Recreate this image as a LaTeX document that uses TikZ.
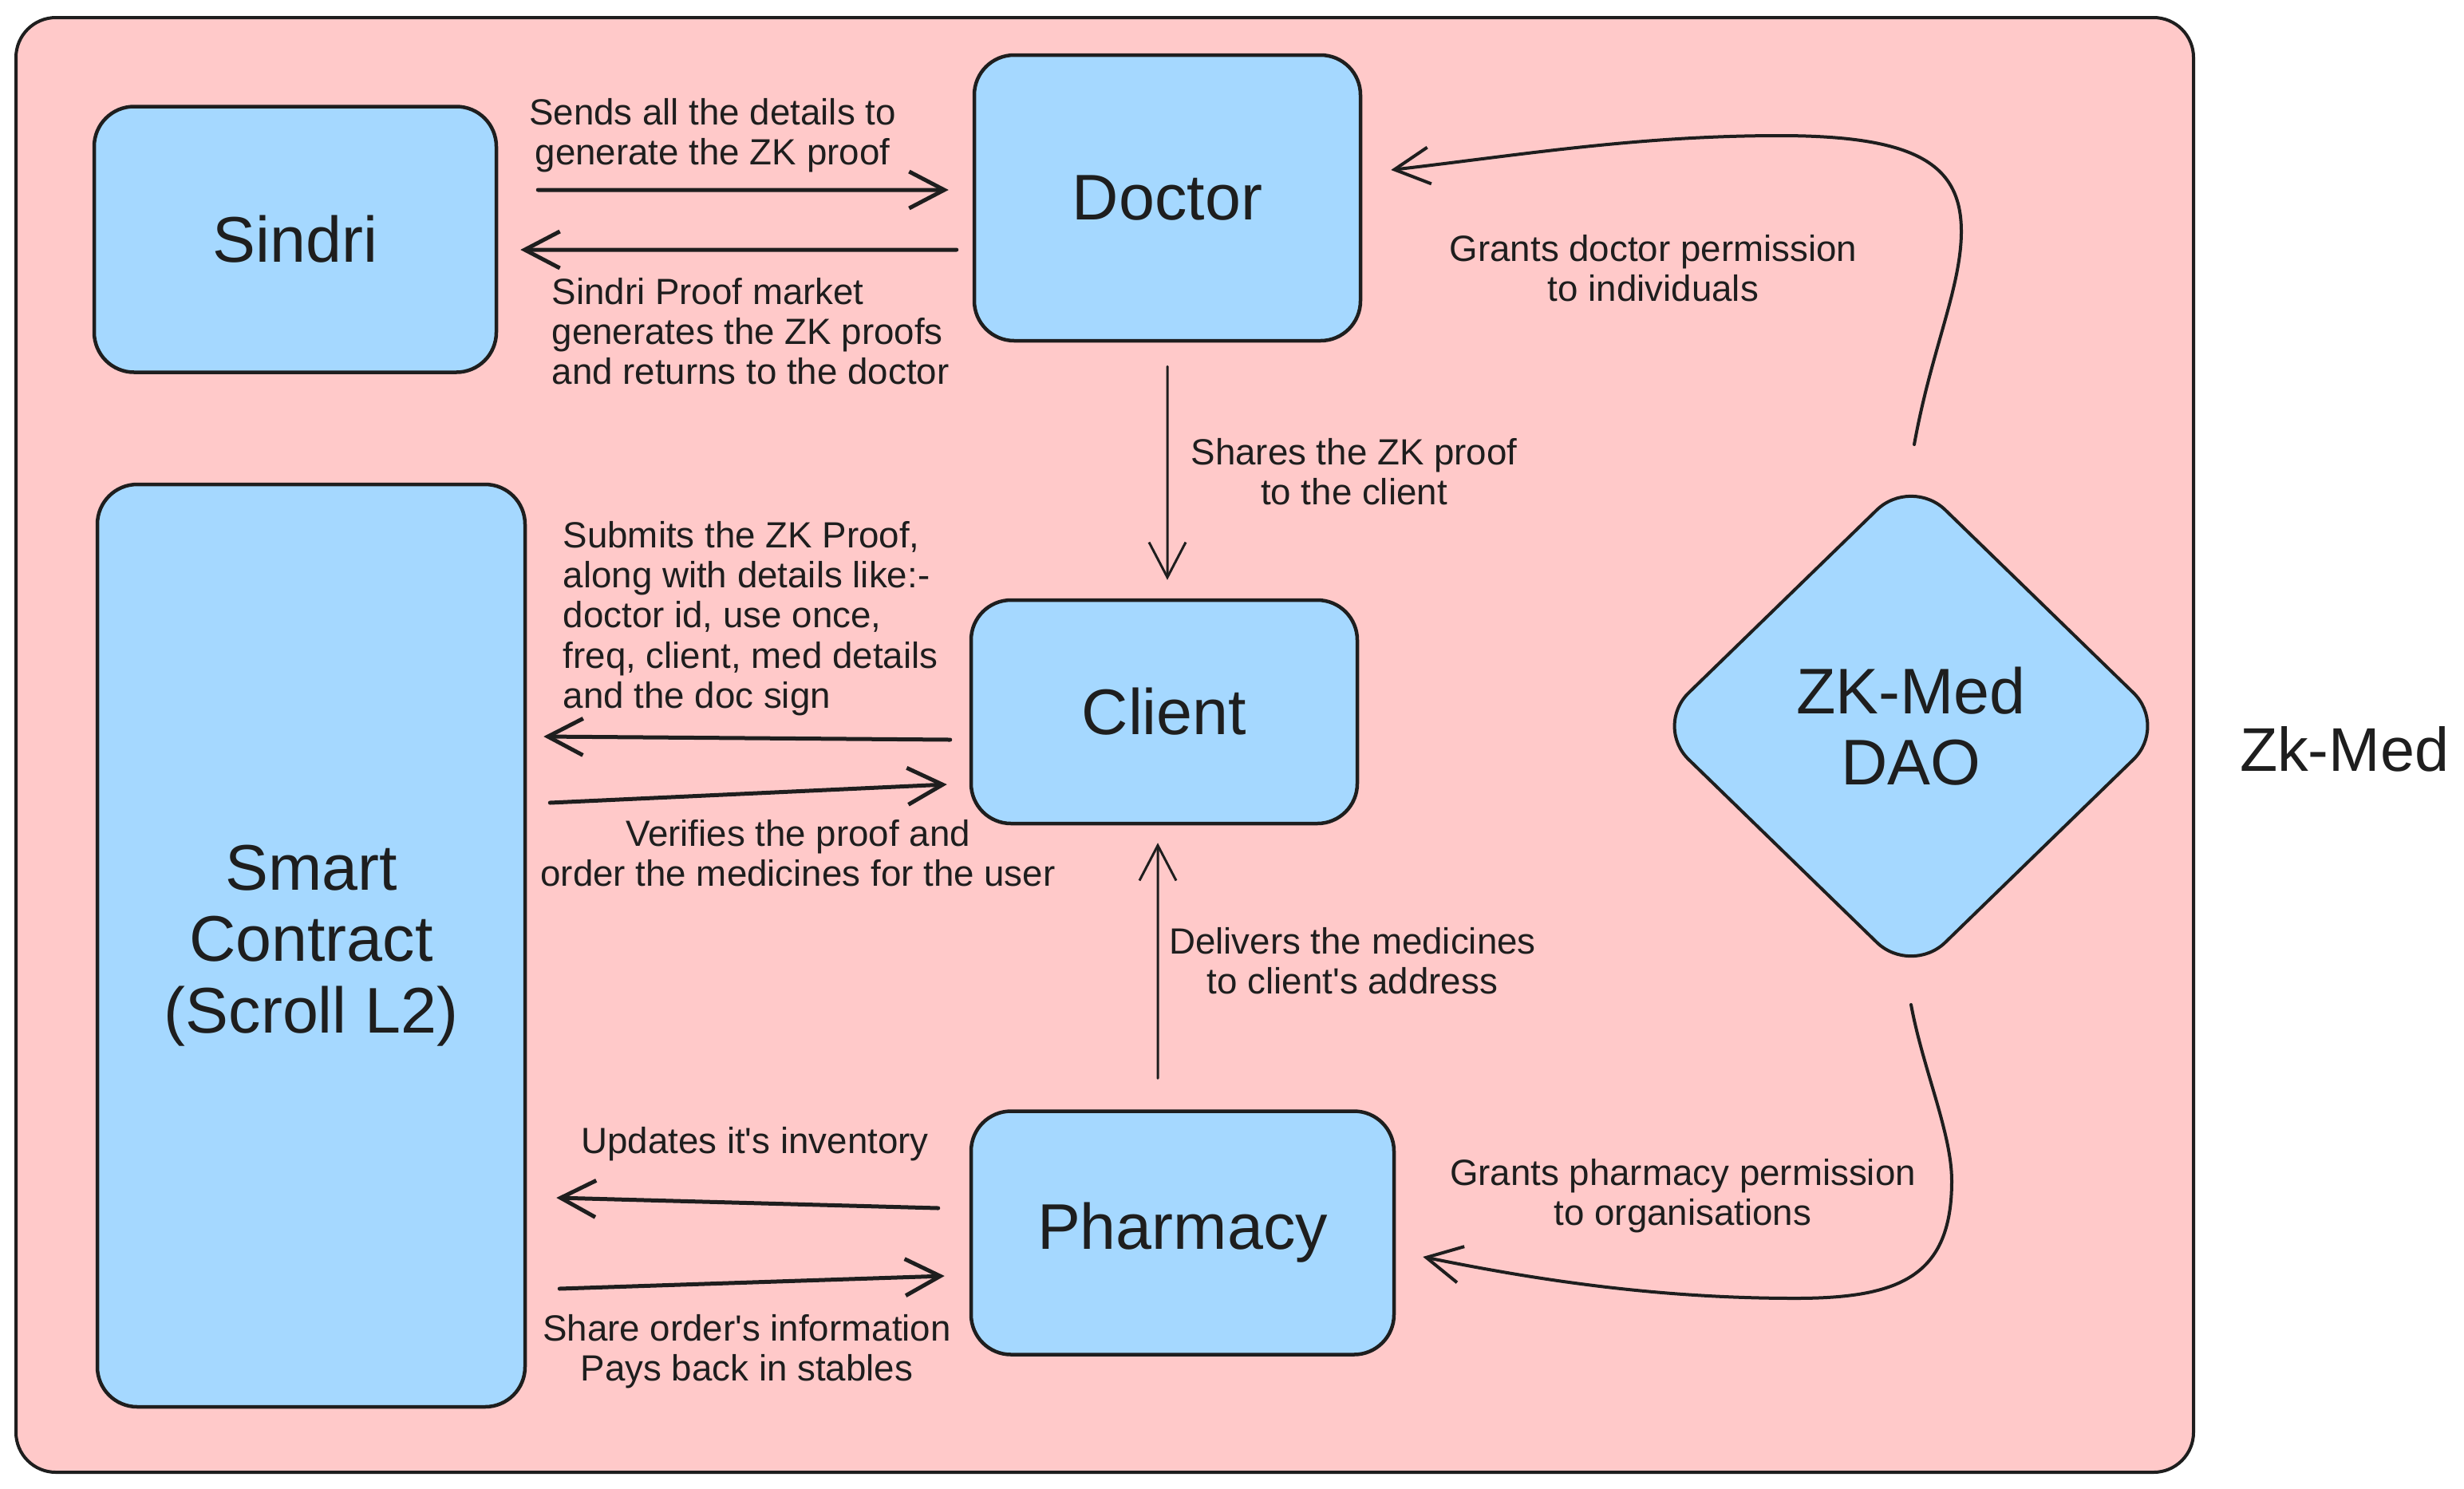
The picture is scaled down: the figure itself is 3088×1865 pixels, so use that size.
\documentclass[tikz,border=0pt]{standalone}
\usepackage{fontspec}
\setmainfont{Liberation Sans}[Ligatures=TeXOff]
\usetikzlibrary{arrows.meta,shapes.geometric}
\definecolor{pinkbg}{HTML}{FFC9C9}
\definecolor{bluebox}{HTML}{A5D8FF}
\definecolor{ink}{HTML}{1E1E1E}
\begin{document}
\begin{tikzpicture}[x=0.1mm,y=-0.1mm,
  box/.style={draw=ink, fill=bluebox, line width=0.45mm, rounded corners=5mm,
    font=\fontsize{23}{25.5}\selectfont, text=ink, align=center, inner sep=0pt},
  lbl/.style={font=\fontsize{13}{14.3}\selectfont, text=ink, align=center, inner sep=0pt},
  bigarrow/.style={draw=ink, line width=0.5mm, line cap=round, line join=round,
    -{Straight Barb[length=4.4mm,width=4.6mm]}},
  thinarrow/.style={draw=ink, line width=0.3mm, line cap=round, line join=round,
    -{Straight Barb[length=4.4mm,width=4.6mm]}},
  curvearrow/.style={draw=ink, line width=0.4mm, line cap=round, line join=round,
    -{Straight Barb[length=4.4mm,width=4.6mm]}}]
\useasboundingbox[fill=white] (0,0) rectangle (3088,1865);
% outer frame
\draw[fill=pinkbg, draw=ink, line width=0.4mm, rounded corners=5mm] (20,22) rectangle (2749,1845);

% nodes
\node[box, minimum width=50.4mm, minimum height=33.3mm] (sindri) at (370,300) {Sindri};
\node[box, minimum width=48.4mm, minimum height=35.8mm] (doctor) at (1463,248) {Doctor};
\node[box, minimum width=48.4mm, minimum height=28mm] (client) at (1459,892) {Client};
\node[box, minimum width=53mm, minimum height=30.5mm] (pharmacy) at (1482,1545) {Pharmacy};
\node[box, minimum width=53.6mm, minimum height=115.6mm] (smart) at (390,1185) {Smart\\Contract\\(Scroll L2)};
\node[box, diamond, minimum width=64.5mm, minimum height=62.7mm, rounded corners=6mm, line width=0.4mm] (dao) at (2395,910) {ZK-Med\\DAO};
\node[font=\fontsize{22}{24}\selectfont, text=ink, inner sep=0pt] (title) at (2938,939) {Zk-Med};

% labels
\node[lbl] (l1) at (893,170) {Sends all the details to\\generate the ZK proof};
\node[lbl, align=left, anchor=west] (l2) at (691,415) {Sindri Proof market\\generates the ZK proofs\\and returns to the doctor};
\node[lbl] (l3) at (1697,591) {Shares the ZK proof\\to the client};
\node[lbl, align=left, anchor=west] (l4) at (705,775) {Submits the ZK Proof,\\along with details like:-\\doctor id, use once,\\freq, client, med details\\and the doc sign};
\node[lbl] (l5) at (1000,1069) {Verifies the proof and\\order the medicines for the user};
\node[lbl] (l6) at (1695,1204) {Delivers the medicines\\to client's address};
\node[lbl] (l7) at (946,1434) {Updates it's inventory};
\node[lbl] (l8) at (936,1694) {Share order's information\\Pays back in stables};
\node[lbl] (l9) at (2072,336) {Grants doctor permission\\to individuals};
\node[lbl] (l10) at (2109,1499) {Grants pharmacy permission\\to organisations};

% connectors
\draw[bigarrow] ([xshift=5mm,yshift=6.2mm]sindri.east) -- ([xshift=-3mm,yshift=1mm]doctor.west);
\draw[bigarrow] ([xshift=-2mm,yshift=-6.5mm]doctor.west) -- ([xshift=2.8mm,yshift=-1.3mm]sindri.east);
\draw[thinarrow] ([yshift=-3mm]doctor.south) -- ([xshift=0.4mm,yshift=2.3mm]client.north);
\draw[bigarrow] ([xshift=-2.4mm,yshift=-3.5mm]client.west) -- ([xshift=2.1mm,yshift=26.2mm]smart.east);
\draw[bigarrow] ([xshift=2.9mm,yshift=17.9mm]smart.east) -- ([xshift=-2.8mm,yshift=-9.1mm]client.west);
\draw[thinarrow] ([xshift=-3.1mm,yshift=3.9mm]pharmacy.north) -- ([xshift=-0.8mm,yshift=-2.2mm]client.south);
\draw[bigarrow] ([xshift=-3.9mm,yshift=3.1mm]pharmacy.west) -- ([xshift=3.7mm,yshift=-31.6mm]smart.east);
\draw[bigarrow] ([xshift=4.1mm,yshift=-43mm]smart.east) -- ([xshift=-3.1mm,yshift=-5.4mm]pharmacy.west);
\draw[curvearrow] ([xshift=0.4mm,yshift=3.75mm]dao.north)
  .. controls (2420,440) and (2458,360) .. (2458,290)
  .. controls (2458,205) and (2400,170) .. (2230,170)
  .. controls (2050,170) and (1900,195) .. ([xshift=3.6mm,yshift=3.5mm]doctor.east);
\draw[curvearrow] ([yshift=-3.35mm]dao.south)
  .. controls (2410,1340) and (2446,1420) .. (2446,1480)
  .. controls (2446,1600) and (2380,1627) .. (2250,1627)
  .. controls (2080,1627) and (1930,1605) .. ([xshift=3.4mm,yshift=-3mm]pharmacy.east);
\end{tikzpicture}
\end{document}
